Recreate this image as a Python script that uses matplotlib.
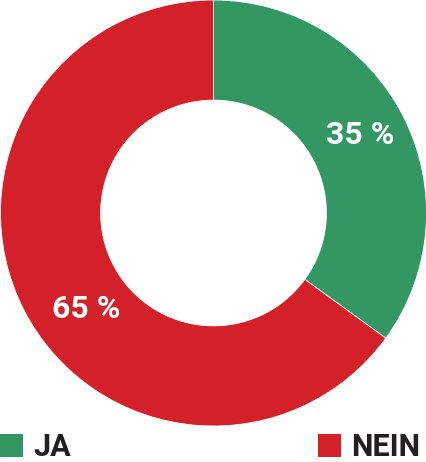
import matplotlib
matplotlib.use("Agg")
import matplotlib.pyplot as plt
from matplotlib.patches import Rectangle
import numpy as np

categories = ["JA", "NEIN"]
values = [35, 65]
labels = ["35 %", "65 %"]
colors = ["#339764", "#d42028"]

W, H = 427, 462
fig = plt.figure(figsize=(W/100, H/100), dpi=100)
ax = fig.add_axes([0, (H-426)/H, 1, 426/H])
ax.pie(values, colors=colors, startangle=90, counterclock=False,
       radius=1, wedgeprops=dict(width=0.47, linewidth=0.6, edgecolor="white"))
ax.set_xlim(-1, 1); ax.set_ylim(-1, 1); ax.set_aspect("equal")
ax.axis("off")

# label positions (angle deg, radius)
pos = [(28, 0.78), (217, 0.75)]
for (ang, r), lab in zip(pos, labels):
    a = np.deg2rad(ang)
    ax.text(r*np.cos(a), r*np.sin(a), lab, ha="center", va="center",
            color="white", fontsize=23, fontweight="bold", family="Roboto")

# legend
sq = 23
legend_x = [0, 318]
for x0, c, name in zip(legend_x, colors, categories):
    fig.patches.append(Rectangle((x0/W, (H-457)/H), sq/W, 23/H, transform=fig.transFigure,
                                 facecolor=c, edgecolor="none"))
    fig.text((x0+33)/W, 0.5/H, name, ha="left", va="bottom", fontsize=22,
             fontweight="bold", family="Roboto", color="#231f20")

fig.savefig("out.png", dpi=100)
